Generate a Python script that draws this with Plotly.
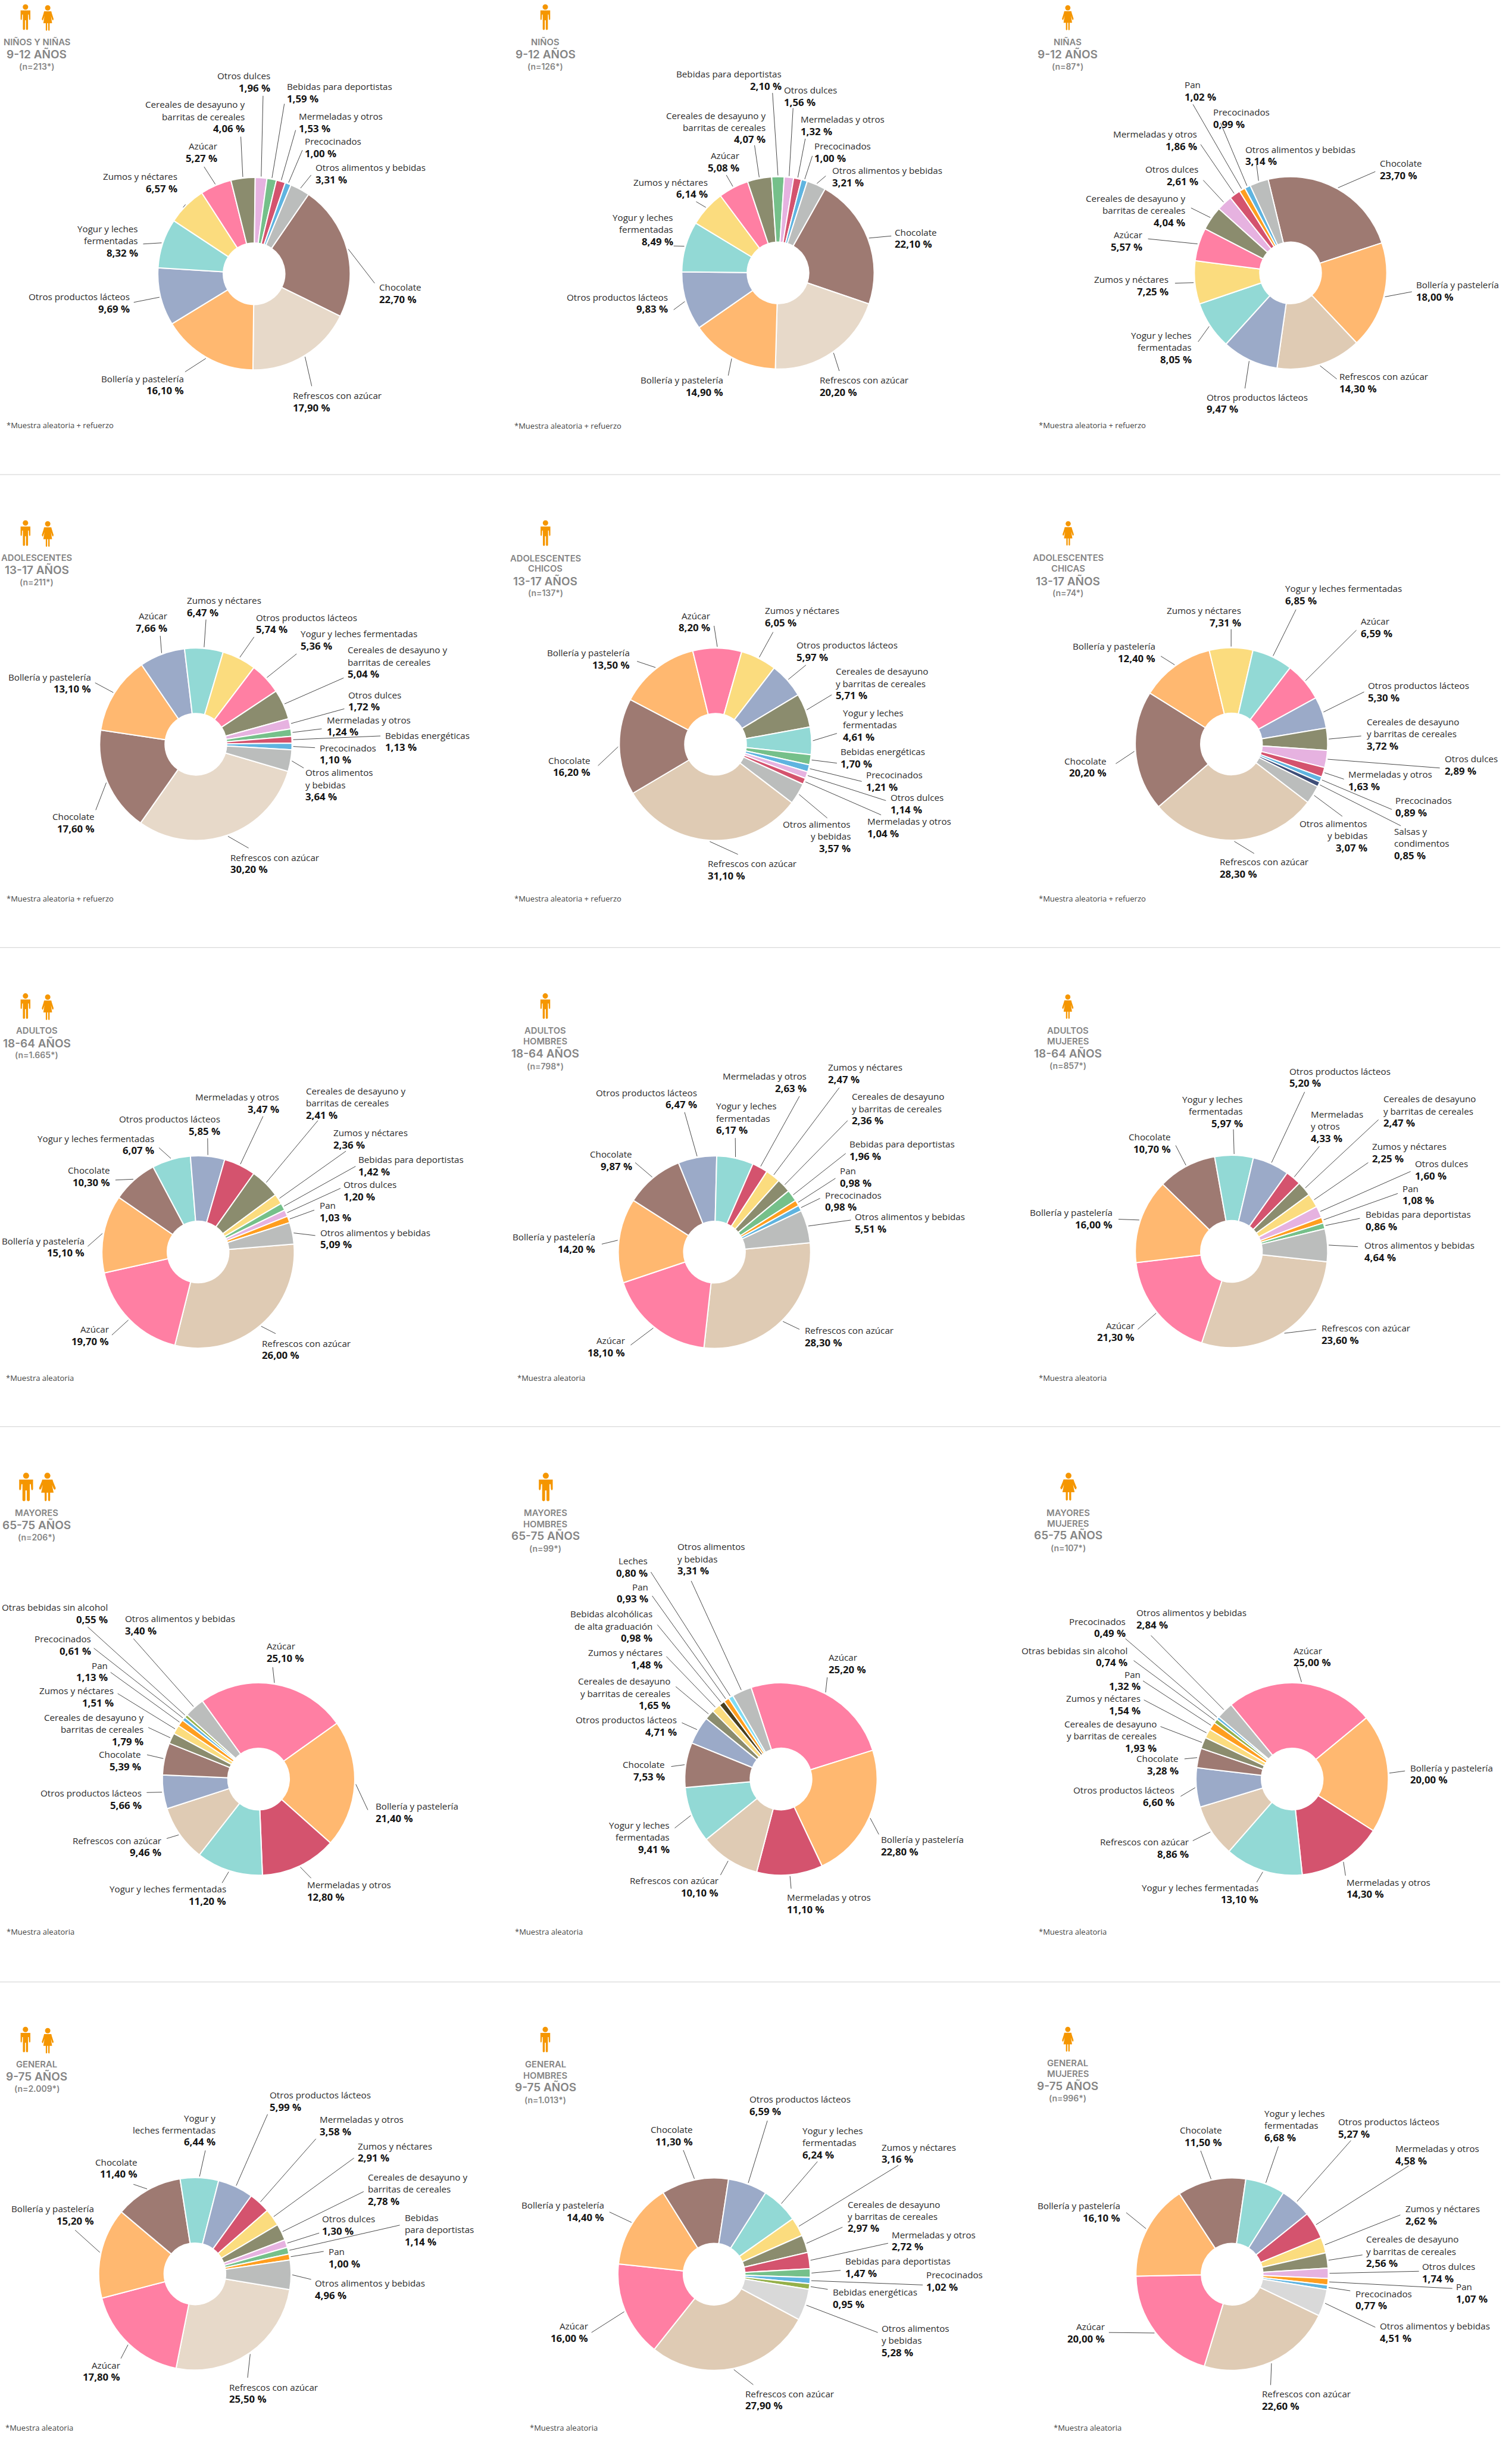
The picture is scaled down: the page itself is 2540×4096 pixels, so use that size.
import math
import plotly.graph_objects as go

W_REF, H_REF = 3709, 5982
VIEW = 1568  # units of the coordinate grid used for each panel's placement table

# ------------------------------------------------------------------ DATA
REFRESCOS, CHOCOLATE, BOLLERIA = "Refrescos con azúcar", "Chocolate", "Bollería y pastelería"
LACTEOS, AZUCAR, ZUMOS = "Otros productos lácteos", "Azúcar", "Zumos y néctares"
YOGUR1 = "Yogur y leches fermentadas"
YOGUR2 = "Yogur y leches<br>fermentadas"
CER1 = "Cereales de desayuno y<br>barritas de cereales"
CER2 = "Cereales de desayuno<br>y barritas de cereales"
DULCES, DEPORT, MERM, PRECO = "Otros dulces", "Bebidas para deportistas", "Mermeladas y otros", "Precocinados"
OTROS1 = "Otros alimentos y bebidas"
OTROS2 = "Otros alimentos<br>y bebidas"
ENERG, PAN = "Bebidas energéticas", "Pan"

NINOS_NINAS_CATS = [CHOCOLATE, REFRESCOS, BOLLERIA, LACTEOS, YOGUR2, ZUMOS, AZUCAR, CER1, DULCES, DEPORT, MERM, PRECO, OTROS1]
NINOS_NINAS_VALUES = [22.70, 17.90, 16.10, 9.69, 8.32, 6.57, 5.27, 4.06, 1.96, 1.59, 1.53, 1.00, 3.31]

NINOS_CATS = [CHOCOLATE, REFRESCOS, BOLLERIA, LACTEOS, YOGUR2, ZUMOS, AZUCAR, CER1, DEPORT, DULCES, MERM, PRECO, OTROS1]
NINOS_VALUES = [22.10, 20.20, 14.90, 9.83, 8.49, 6.14, 5.08, 4.07, 2.10, 1.56, 1.32, 1.00, 3.21]

NINAS_CATS = [CHOCOLATE, BOLLERIA, REFRESCOS, LACTEOS, YOGUR2, ZUMOS, AZUCAR, CER1, DULCES, MERM, PAN, PRECO, OTROS1]
NINAS_VALUES = [23.70, 18.00, 14.30, 9.47, 8.05, 7.25, 5.57, 4.04, 2.61, 1.86, 1.02, 0.99, 3.14]

ADOL_CATS = [REFRESCOS, CHOCOLATE, BOLLERIA, AZUCAR, ZUMOS, LACTEOS, YOGUR1, CER1, DULCES, MERM, ENERG, PRECO, OTROS2]
ADOL_VALUES = [30.20, 17.60, 13.10, 7.66, 6.47, 5.74, 5.36, 5.04, 1.72, 1.24, 1.13, 1.10, 3.64]

CHICOS_CATS = [REFRESCOS, CHOCOLATE, BOLLERIA, AZUCAR, ZUMOS, LACTEOS, CER2, YOGUR2, ENERG, PRECO, DULCES, MERM, OTROS2]
CHICOS_VALUES = [31.10, 16.20, 13.50, 8.20, 6.05, 5.97, 5.71, 4.61, 1.70, 1.21, 1.14, 1.04, 3.57]

CHICAS_CATS = [REFRESCOS, CHOCOLATE, BOLLERIA, ZUMOS, YOGUR1, AZUCAR, LACTEOS, CER2, DULCES, MERM, PRECO, "Salsas y<br>condimentos", OTROS2]
CHICAS_VALUES = [28.30, 20.20, 12.40, 7.31, 6.85, 6.59, 5.30, 3.72, 2.89, 1.63, 0.89, 0.85, 3.07]

ADULTOS_CATS = [REFRESCOS, AZUCAR, BOLLERIA, CHOCOLATE, YOGUR1, LACTEOS, MERM, CER1, ZUMOS, DEPORT, DULCES, PAN, OTROS1]
ADULTOS_VALUES = [26.00, 19.70, 15.10, 10.30, 6.07, 5.85, 3.47, 2.41, 2.36, 1.42, 1.20, 1.03, 5.09]
# the reference's slices in this panel do not follow its printed figures: sizes as drawn
ADULTOS_DRAWN = [30.20, 17.60, 13.10, 7.66, 6.47, 5.74, 5.36, 5.04, 1.72, 1.24, 1.13, 1.10, 3.64]

HOMBRES_CATS = [REFRESCOS, AZUCAR, BOLLERIA, CHOCOLATE, LACTEOS, YOGUR2, MERM, ZUMOS, CER2, DEPORT, PAN, PRECO, OTROS1]
HOMBRES_VALUES = [28.30, 18.10, 14.20, 9.87, 6.47, 6.17, 2.63, 2.47, 2.36, 1.96, 0.98, 0.98, 5.51]

MUJERES_CATS = [REFRESCOS, AZUCAR, BOLLERIA, CHOCOLATE, YOGUR2, LACTEOS, "Mermeladas<br>y otros", CER2, ZUMOS, DULCES, PAN, DEPORT, OTROS1]
MUJERES_VALUES = [23.60, 21.30, 16.00, 10.70, 5.97, 5.20, 4.33, 2.47, 2.25, 1.60, 1.08, 0.86, 4.64]
# same remark: sizes as drawn
MUJERES_DRAWN = [28.30, 18.10, 14.20, 9.87, 6.47, 6.17, 2.63, 2.47, 2.36, 1.96, 0.98, 0.98, 5.51]

MAYORES_CATS = [AZUCAR, BOLLERIA, MERM, YOGUR1, REFRESCOS, LACTEOS, CHOCOLATE, CER1, ZUMOS, PAN, PRECO, "Otras bebidas sin alcohol", OTROS1]
MAYORES_VALUES = [25.10, 21.40, 12.80, 11.20, 9.46, 5.66, 5.39, 1.79, 1.51, 1.13, 0.61, 0.55, 3.40]

MAY_H_CATS = [AZUCAR, BOLLERIA, MERM, REFRESCOS, YOGUR2, CHOCOLATE, LACTEOS, CER2, ZUMOS, "Bebidas alcohólicas<br>de alta graduación", PAN, "Leches", OTROS2]
MAY_H_VALUES = [25.20, 22.80, 11.10, 10.10, 9.41, 7.53, 4.71, 1.65, 1.48, 0.98, 0.93, 0.80, 3.31]

MAY_M_CATS = [AZUCAR, BOLLERIA, MERM, YOGUR1, REFRESCOS, LACTEOS, CHOCOLATE, CER2, ZUMOS, PAN, "Otras bebidas sin alcohol", PRECO, OTROS1]
MAY_M_VALUES = [25.00, 20.00, 14.30, 13.10, 8.86, 6.60, 3.28, 1.93, 1.54, 1.32, 0.74, 0.49, 2.84]

GENERAL_CATS = [REFRESCOS, AZUCAR, BOLLERIA, CHOCOLATE, "Yogur y<br>leches fermentadas", LACTEOS, MERM, ZUMOS, CER1, DULCES, "Bebidas<br>para deportistas", PAN, OTROS1]
GENERAL_VALUES = [25.50, 17.80, 15.20, 11.40, 6.44, 5.99, 3.58, 2.91, 2.78, 1.30, 1.14, 1.00, 4.96]

GEN_H_CATS = [REFRESCOS, AZUCAR, BOLLERIA, CHOCOLATE, LACTEOS, YOGUR2, ZUMOS, CER2, MERM, DEPORT, PRECO, ENERG, OTROS2]
GEN_H_VALUES = [27.90, 16.00, 14.40, 11.30, 6.59, 6.24, 3.16, 2.97, 2.72, 1.47, 1.02, 0.95, 5.28]

GEN_M_CATS = [REFRESCOS, AZUCAR, BOLLERIA, CHOCOLATE, YOGUR2, LACTEOS, MERM, ZUMOS, CER2, DULCES, PAN, PRECO, OTROS1]
GEN_M_VALUES = [22.60, 20.00, 16.10, 11.50, 6.68, 5.27, 4.58, 2.62, 2.56, 1.74, 1.07, 0.77, 4.51]

# ------------------------------------------------------------------ STYLE
C = dict(cho="#9E7A72", rl="#E7D9C9", rd="#DFCBB4", bol="#FFB870", lac="#9BAAC8", tea="#92D9D5",
         yel="#FBDC7E", pnk="#FF7FA3", oli="#8B8C6E", lil="#E6B2E0", grn="#75C08A", red="#D4536E",
         blu="#5FB4E0", gry="#BBBDBC", lgy="#D9D9D9", org="#FF9E1F", nav="#3E4E78", lim="#95B04A",
         brn="#4A3F1F", cya="#7FDDF5")
ORANGE, HEAD_GREY, TXT, TXTB = "#F59600", "#858585", "#2B2B2B", "#141414"
FONT = "Open Sans"
RADIUS = 236
HOLE = 0.32
S1, S2, S3 = 14.8, 19, 14
R_NOTE = "*Muestra aleatoria + refuerzo"
A_NOTE = "*Muestra aleatoria"

# crop = x0, y0, w, h: placement numbers of a panel are on a VIEW x VIEW grid over this rectangle
CROP_A = (0, 0, 1240, 1100)
CROP_BC = (1240, 0, 2469, 1100)
CROP_D = (0, 1180, 1240, 1100)
CROP_E = (1240, 1180, 1240, 1100)
CROP_F = (2480, 1180, 1229, 1100)
CROP_G = (0, 2380, 1240, 1100)
CROP_HI = (1240, 2380, 2469, 1100)
CROP_J = (0, 3560, 1240, 1220)
CROP_K = (1240, 3560, 1240, 1220)
CROP_L = (2480, 3560, 1229, 1220)
CROP_M = (0, 4860, 1240, 1122)
CROP_NO = (1240, 4860, 2469, 1122)

# each label: anchor, text x, first-line y, leader end x, leader end y
PANELS = [
 dict(cats=NINOS_NINAS_CATS, vals=NINOS_NINAS_VALUES, crop=CROP_A, c=(788, 957), rot=34.5,
  colors="cho rl bol lac tea yel pnk oli lil grn red blu gry".split(),
  head=(114, [("NIÑOS Y NIÑAS", 147, S1), ("9-12 AÑOS", 190, S2), ("(n=213*)", 232, S3)]),
  icons=[("m", 79, 15), ("f", 148, 18)], icon_h=90, note=(R_NOTE, 18, 1487),
  labels=[("l",1175,1004,1162,990),("l",907,1382,967,1350),("r",573,1323,574,1300),("r",405,1037,415,1057),
          ("r",431,799,444,853),("r",552,617,568,725),("r",676,511,633,583),("r",761,365,747,478),
          ("r",841,265,816,335),("l",888,302,882,363),("l",926,406,917,455),("l",943,494,938,525),("l",976,585,965,612)]),
 dict(cats=NINOS_CATS, vals=NINOS_VALUES, crop=CROP_BC, c=(424.5, 954), rot=29.3,
  colors="cho rl bol lac tea yel pnk oli grn lil red blu gry".split(),
  head=(62, [("NIÑOS", 147, S1), ("9-12 AÑOS", 190, S2), ("(n=126*)", 232, S3)]),
  icons=[("m", 62, 15)], icon_h=90, note=(R_NOTE, 13, 1488),
  labels=[("l",605,811,601,825),("l",489,1328,520,1297),("r",340,1328,347,1313),("r",254,1038,262,1083),
          ("r",262,760,262,860),("r",316,636,297,705),("r",365,544,344,612),("r",406,403,388,508),
          ("r",431,259,416,325),("l",433,315,448,378),("l",459,416,467,485),("l",480,511,478,545),("l",508,595,499,615)]),
 dict(cats=NINAS_CATS, vals=NINAS_VALUES, crop=CROP_BC, c=(1223, 954), rot=-13.5,
  colors="cho bol rd lac tea yel pnk oli lil red org blu gry".split(),
  head=(876, [("NIÑAS", 147, S1), ("9-12 AÑOS", 190, S2), ("(n=87*)", 232, S3)]),
  icons=[("f", 876, 18)], icon_h=88, note=(R_NOTE, 830, 1487),
  labels=[("l",1361,571,1355,600),("l",1418,996,1412,1020),("l",1298,1316,1295,1325),("l",1091,1388,1152,1358),
          ("r",1070,1172,1079,1195),("r",1034,977,1043,990),("r",993,821,1001,835),("r",1060,693,1068,727),
          ("r",1080,592,1087,630),("r",1078,468,1083,505),("l",1057,296,1071,365),("l",1102,392,1114,430),("l",1152,522,1170,575)]),
 dict(cats=ADOL_CATS, vals=ADOL_VALUES, crop=CROP_D, c=(607.5, 920), rot=106.4,
  colors="rl cho bol lac tea yel pnk oli lil grn red blu gry".split(),
  head=(114, [("ADOLESCENTES", 269, S1), ("13-17 AÑOS", 312, S2), ("(n=211*)", 353, S3)]),
  icons=[("m", 79, 137), ("f", 148, 140)], icon_h=90, note=(R_NOTE, 18, 1459),
  labels=[("l",712,1315,771,1283),("r",296,1172,297,1150),("r",284,684,295,705),("r",521,471,497,541),
          ("l",578,417,639,484),("l",792,476,788,545),("l",930,534,920,604),("l",1077,590,1066,688),
          ("l",1078,747,1068,796),("l",1012,834,998,866),("l",1193,888,1180,891),("l",989,932,977,932),("l",946,1019,942,1003)]),
 dict(cats=CHICOS_CATS, vals=CHICOS_VALUES, crop=CROP_E, c=(651.5, 920), rot=127.4,
  colors="rd cho bol pnk yel lac oli tea grn blu lil red gry".split(),
  head=(124, [("ADOLESCENTES", 270, S1), ("CHICOS", 307, S1), ("13-17 AÑOS", 350, S2), ("(n=137*)", 391, S3)]),
  icons=[("m", 124, 137)], icon_h=90, note=(R_NOTE, 26, 1459),
  labels=[("l",626,1337,721,1305),("r",266,976,287,995),("r",388,600,408,630),("r",636,470,647,506),
          ("l",802,452,830,528),("l",900,573,932,643),("l",1023,665,1012,747),("l",1044,810,1028,882),
          ("l",1038,945,1028,986),("l",1116,1026,1105,1050),("l",1193,1106,1180,1117),("l",1121,1189,1165,1167),("r",1072,1199,998,1178)]),
 dict(cats=CHICAS_CATS, vals=CHICAS_VALUES, crop=CROP_F, c=(690, 919), rot=127.4,
  colors="rd cho bol yel tea pnk lac oli lil red blu nav gry".split(),
  head=(179, [("ADOLESCENTES", 269, S1), ("CHICAS", 307, S1), ("13-17 AÑOS", 350, S2), ("(n=74*)", 390, S3)]),
  icons=[("f", 179, 140)], icon_h=86, note=(R_NOTE, 85, 1459),
  labels=[("l",652,1330,761,1302),("r",302,978,328,988),("r",453,577,469,612),("r",722,452,689,518),
          ("l",857,375,892,449),("l",1093,489,1081,521),("l",1116,714,1105,737),("l",1112,841,1096,891),
          ("l",1356,971,1342,1003),("l",1053,1025,1042,1042),("l",1201,1116,1192,1148),("l",1197,1224,1220,1205),("r",1118,1197,1037,1172)]),
 dict(cats=ADULTOS_CATS, vals=ADULTOS_VALUES, drawn=ADULTOS_DRAWN, crop=CROP_G, c=(614.5, 984.5), rot=85.3,
  colors="rd pnk bol cho tea lac red oli yel grn lil org gry".split(),
  head=(114, [("ADULTOS", 212, S1), ("18-64 AÑOS", 255, S2), ("(n=1.665*)", 296, S3)]),
  icons=[("m", 79, 80), ("f", 148, 84)], icon_h=90, note=(A_NOTE, 17, 1424),
  labels=[("l",811,1303,855,1270),("r",339,1254,347,1275),("r",264,945,272,965),("r",344,698,358,733),
          ("r",481,587,493,620),("r",685,520,644,587),("r",867,442,816,510),("l",948,421,986,525),
          ("l",1033,567,1073,632),("l",1110,661,1103,685),("l",1064,748,1056,762),("l",989,822,975,838),("l",991,916,978,927)]),
 dict(cats=HOMBRES_CATS, vals=HOMBRES_VALUES, crop=CROP_HI, c=(325.5, 985), rot=84.4,
  colors="rd pnk bol cho lac tea red yel oli grn org blu gry".split(),
  head=(62, [("ADULTOS", 212, S1), ("HOMBRES", 249, S1), ("18-64 AÑOS", 292, S2), ("(n=798*)", 334, S3)]),
  icons=[("m", 62, 80)], icon_h=90, note=(A_NOTE, 17, 1424),
  labels=[("l",465,1258,458,1255),("r",187,1294,195,1310),("r",141,932,150,957),("r",198,642,202,672),
          ("r",299,427,279,496),("l",327,474,358,586),("r",470,370,458,440),("l",502,339,520,410),
          ("l",539,441,533,525),("l",535,607,530,640),("l",520,701,514,727),("l",497,785,490,797),("l",543,861,538,873)]),
 dict(cats=MUJERES_CATS, vals=MUJERES_VALUES, drawn=MUJERES_DRAWN, crop=CROP_HI, c=(1131, 982.5), rot=96.2,
  colors="rd pnk bol cho tea lac red oli yel lil org grn gry".split(),
  head=(876, [("ADULTOS", 211, S1), ("MUJERES", 248, S1), ("18-64 AÑOS", 291, S2), ("(n=857*)", 333, S3)]),
  icons=[("f", 876, 84)], icon_h=86, note=(A_NOTE, 830, 1424),
  labels=[("l",1270,1250,1263,1255),("r",981,1241,985,1255),("r",947,846,955,870),("r",1038,582,1044,612),
          ("r",1150,450,1134,556),("l",1220,352,1245,425),("l",1254,503,1268,615),("l",1367,449,1360,522),
          ("l",1349,615,1344,672),("l",1416,675,1410,703),("l",1396,762,1390,780),("l",1339,853,1331,867),("l",1337,961,1328,966)]),
 dict(cats=MAYORES_CATS, vals=MAYORES_VALUES, crop=CROP_J, c=(802, 1032.5), rot=-35.8,
  colors="pnk bol red tea rd lac cho oli yel org blu lim gry".split(),
  head=(114, [("MAYORES", 195, S1), ("65-75 AÑOS", 233, S2), ("(n=206*)", 271, S3)]),
  icons=[("M", 81, 67), ("F", 147, 67)], icon_h=90, note=(A_NOTE, 18, 1514),
  labels=[("l",825,613,846,680),("l",1164,1118,1141,1130),("l",951,1366,965,1345),("r",704,1379,689,1360),
          ("r",502,1226,517,1220),("r",441,1076,455,1075),("r",439,955,456,956),("r",447,838,460,870),
          ("r",354,754,365,763),("r",336,674,343,696),("r",284,590,291,620),("r",336,491,272,553),("l",385,526,414,590)]),
 dict(cats=MAY_H_CATS, vals=MAY_H_VALUES, crop=CROP_K, c=(854.5, 1032.5), rot=-18.1,
  colors="pnk bol red rd tea cho lac oli yel brn org cya gry".split(),
  head=(124, [("MAYORES", 195, S1), ("HOMBRES", 229, S1), ("65-75 AÑOS", 267, S2), ("(n=99*)", 305, S3)]),
  icons=[("M", 125, 67)], icon_h=90, note=(A_NOTE, 27, 1514),
  labels=[("l",1001,649,998,712),("l",1163,1223,1158,1207),("l",872,1405,886,1378),("r",663,1352,667,1335),
          ("r",511,1178,525,1187),("r",496,986,514,993),("r",534,846,547,855),("r",513,724,528,741),
          ("r",489,634,499,646),("r",457,512,471,546),("r",445,426,455,455),("r",443,345,451,380),("l",532,300,576,408)]),
 dict(cats=MAY_M_CATS, vals=MAY_M_VALUES, crop=CROP_L, c=(880, 1032.5), rot=-39.5,
  colors="pnk bol red tea rd lac cho oli yel org lim blu gry".split(),
  head=(179, [("MAYORES", 194, S1), ("MUJERES", 227, S1), ("65-75 AÑOS", 265, S2), ("(n=107*)", 303, S3)]),
  icons=[("F", 180, 67)], icon_h=88, note=(A_NOTE, 85, 1514),
  labels=[("l",883,627,893,672),("l",1247,997,1233,1007),("l",1049,1357,1047,1337),("r",777,1374,769,1358),
          ("r",558,1230,569,1227),("r",514,1067,531,1087),("r",527,968,543,969),("r",458,859,468,867),
          ("r",408,778,416,783),("r",407,702,413,723),("r",366,627,384,659),("r",360,535,358,590),("l",391,508,438,580)]),
 dict(cats=GENERAL_CATS, vals=GENERAL_VALUES, crop=CROP_M, c=(604.5, 1002), rot=99.5,
  colors="rl pnk bol cho tea lac red yel oli lil grn org gry".split(),
  head=(114, [("GENERAL", 284, S1), ("9-75 AÑOS", 326, S2), ("(n=2.009*)", 367, S3)]),
  icons=[("m", 79, 155), ("f", 148, 159)], icon_h=88, note=(A_NOTE, 15, 1530),
  labels=[("l",709,1390,768,1358),("r",374,1314,375,1292),("r",293,778,233,852),("r",429,618,414,695),
          ("r",671,467,637,579),("l",834,388,830,455),("l",990,472,980,539),("l",1108,563,1098,605),
          ("l",1139,670,1128,720),("l",997,813,990,862),("l",1253,808,1240,835),("l",1017,925,1004,925),("l",975,1033,965,1021)]),
 dict(cats=GEN_H_CATS, vals=GEN_H_VALUES, crop=CROP_NO, c=(325, 1003), rot=118.1,
  colors="rd pnk bol cho lac tea yel oli red grn blu lim lgy".split(),
  head=(62, [("GENERAL", 284, S1), ("HOMBRES", 322, S1), ("9-75 AÑOS", 363, S2), ("(n=1.013*)", 405, S3)]),
  icons=[("m", 62, 155)], icon_h=88, note=(A_NOTE, 37, 1530),
  labels=[("l",373,1412,386,1382),("r",130,1181,134,1203),("r",155,766,162,790),("r",293,507,277,578),
          ("l",379,403,408,477),("l",462,510,486,617),("l",585,567,612,630),("l",532,763,525,842),
          ("l",601,867,596,897),("l",528,958,522,990),("l",655,1005,650,1040),("l",509,1064,502,1055),("l",585,1188,580,1203)]),
 dict(cats=GEN_M_CATS, vals=GEN_M_VALUES, crop=CROP_NO, c=(1132, 1003), rot=115.5,
  colors="rd pnk bol cho tea lac red yel oli lil org blu lgy".split(),
  head=(876, [("GENERAL", 280, S1), ("MUJERES", 317, S1), ("9-75 AÑOS", 359, S2), ("(n=996*)", 399, S3)]),
  icons=[("f", 876, 155)], icon_h=86, note=(A_NOTE, 853, 1530),
  labels=[("l",1178,1413,1192,1383),("r",935,1182,940,1203),("r",959,768,967,792),("r",1117,509,1083,580),
          ("l",1181,452,1204,565),("l",1296,481,1317,545),("l",1385,572,1407,632),("l",1401,778,1394,800),
          ("l",1340,883,1335,937),("l",1427,976,1423,993),("l",1480,1046,1475,1052),("l",1323,1069,1316,1060),("l",1361,1181,1355,1185)]),
]
DIVIDERS_Y = [1164, 2324, 3499, 4861]

# ------------------------------------------------------------------ HELPERS
def fx(px): return px / W_REF
def fy(py): return 1 - py / H_REF
def zx(crop, v): return crop[0] + v * crop[2] / VIEW
def zy(crop, v): return crop[1] + v * crop[3] / VIEW
def pct(v): return f"{v:.2f}".replace(".", ",") + " %"

LINE_REF = 29.5
def add_text(ann, text, x, y_mid, size, anchor="left", color=TXT, family=FONT, weight=None):
    font = dict(family=family, size=size, color=color)
    if weight:
        font["weight"] = weight
    ann.append(dict(text=text, xref="paper", yref="paper", x=fx(x), y=fy(y_mid), xanchor=anchor, yanchor="middle",
                    align=anchor, showarrow=False, borderpad=0, font=font))

def icon_paths(kind, cx, top, h):
    wide = 1.28 if kind in "MF" else 1.0
    female = kind in "fF"
    def p(u, v): return f"{fx(cx + u * wide * h):.6f},{fy(top + v * h):.6f}"
    if female:
        half = [(-.09,.24),(-.14,.24),(-.16,.32),(-.23,.54),(-.205,.60),(-.17,.56),(-.125,.42),(-.17,.70),(-.075,.70),
                (-.075,.97),(-.05,1.0),(-.02,.97),(-.02,.70)]
    else:
        half = [(-.11,.24),(-.19,.24),(-.19,.33),(-.19,.58),(-.165,.62),(-.14,.58),(-.13,.40),(-.10,.40),(-.10,.97),
                (-.06,1.0),(-.02,.97),(-.02,.62)]
    pts = half + [(-a, b) for a, b in reversed(half)]
    return "M" + " L".join(p(a, b) for a, b in pts) + " Z"

# ------------------------------------------------------------------ FIGURE
fig = go.Figure()
shapes, ann = [], []

for y in DIVIDERS_Y:
    shapes.append(dict(type="line", xref="paper", yref="paper", x0=0, x1=fx(3680), y0=fy(y), y1=fy(y),
                       line=dict(color="#CFCFCF", width=1)))

for P in PANELS:
    crop = P["crop"]
    cx, cy = zx(crop, P["c"][0]), zy(crop, P["c"][1])
    drawn = P.get("drawn", P["vals"])
    fig.add_trace(go.Pie(
        labels=P["cats"], values=drawn, sort=False, direction="clockwise", rotation=P["rot"], hole=HOLE,
        marker=dict(colors=[C[k] for k in P["colors"]], line=dict(color="white", width=2)),
        textinfo="none", hoverinfo="label+percent", showlegend=False,
        domain=dict(x=[fx(cx - RADIUS), fx(cx + RADIUS)], y=[fy(cy + RADIUS), fy(cy - RADIUS)]),
    ))
    total, acc = sum(drawn), 0.0
    for cat, val, share, (anc, tx, ty, lx, ly) in zip(P["cats"], P["vals"], drawn, P["labels"]):
        ang = math.radians(P["rot"] + (acc + share / 2) / total * 360)
        acc += share
        sx, sy = cx + (RADIUS + 3) * math.sin(ang), cy - (RADIUS + 3) * math.cos(ang)
        shapes.append(dict(type="line", xref="paper", yref="paper", x0=fx(sx), y0=fy(sy),
                           x1=fx(zx(crop, lx)), y1=fy(zy(crop, ly)), line=dict(color="#333333", width=0.9)))
        lines = cat.split("<br>")
        x_txt, y0 = zx(crop, tx), zy(crop, ty)
        a = "left" if anc == "l" else "right"
        for i, line in enumerate(lines):
            add_text(ann, line, x_txt, y0 + i * LINE_REF, 15.2, a, TXT)
        add_text(ann, f"<b>{pct(val)}</b>", x_txt, y0 + len(lines) * LINE_REF, 16.8, a, TXTB)
    hx, rows = P["head"]
    for text, hy, size in rows:
        add_text(ann, text, zx(crop, hx), zy(crop, hy), size, "center", HEAD_GREY, "Inter", 600)
    note, nx, ny = P["note"]
    add_text(ann, note, zx(crop, nx), zy(crop, ny), 13, "left", "#444444")
    for kind, ix, itop in P["icons"]:
        h = P["icon_h"] * crop[3] / VIEW
        icx, top = zx(crop, ix), zy(crop, itop)
        head_r = 0.105 * h
        shapes.append(dict(type="circle", xref="paper", yref="paper", fillcolor=ORANGE, line_width=0,
                           x0=fx(icx - head_r), x1=fx(icx + head_r), y0=fy(top), y1=fy(top + 2 * head_r)))
        shapes.append(dict(type="path", xref="paper", yref="paper", fillcolor=ORANGE, line_width=0,
                           path=icon_paths(kind, icx, top, h)))

fig.update_layout(width=2540, height=4096, margin=dict(l=0, r=0, t=0, b=0), paper_bgcolor="white",
                  plot_bgcolor="white", showlegend=False, shapes=shapes, annotations=ann, hovermode=False)
fig.write_html("out.html", config=dict(displayModeBar=False),
               post_script="document.body.style.margin='0';document.documentElement.style.margin='0';")
